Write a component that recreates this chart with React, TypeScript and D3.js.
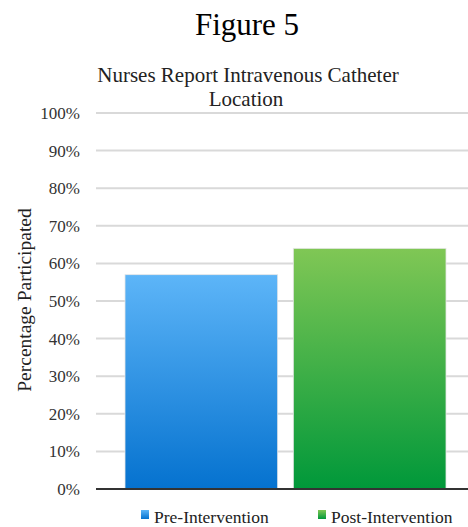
import React from "react";
import * as d3 from "d3";

const series = ["Pre-Intervention", "Post-Intervention"];
const values = [57, 64];
const yTicks = [0, 10, 20, 30, 40, 50, 60, 70, 80, 90, 100];
const topColors = ["#5db5f8", "#80c755"];
const bottomColors = ["#0572cf", "#00983a"];

export default function App() {
  const W = 468, H = 527;
  const y = d3.scaleLinear().domain([0, 100]).range([489, 113]);
  const x = d3.scaleBand<string>().domain(series).range([125, 446]).paddingInner(0.093).paddingOuter(0);
  const font = "'Liberation Serif', 'Times New Roman', serif";
  const legendX = [141, 318];
  return (
    <svg width={W} height={H} style={{ position: "absolute", left: 0, top: 0 }} fontFamily={font}>
      <defs>
        {series.map((s, i) => (
          <linearGradient key={s} id={`g${i}`} x1="0" y1="0" x2="0" y2="1">
            <stop offset="0%" stopColor={topColors[i]} />
            <stop offset="100%" stopColor={bottomColors[i]} />
          </linearGradient>
        ))}
      </defs>
      <rect width={W} height={H} fill="#fff" />
      <text x={247} y={35} textAnchor="middle" fontSize={31} fill="#000">Figure 5</text>
      <text x={248} y={82} textAnchor="middle" fontSize={21} fill="#222">Nurses Report Intravenous Catheter</text>
      <text x={246} y={106} textAnchor="middle" fontSize={21} fill="#222">Location</text>
      {yTicks.filter(t => t > 0).map(t => (
        <line key={t} x1={96} x2={468} y1={y(t)} y2={y(t)} stroke="#d9d9d9" strokeWidth={2} />
      ))}
      {yTicks.map(t => (
        <text key={t} x={80} y={y(t) + 6} textAnchor="end" fontSize={17} fill="#333">{t}%</text>
      ))}
      <text transform="translate(31,300) rotate(-90)" textAnchor="middle" fontSize={19.5} fill="#222">Percentage Participated</text>
      {series.map((s, i) => (
        <rect key={s} x={x(s)} y={y(values[i])} width={x.bandwidth()} height={y(0) - y(values[i])} fill={`url(#g${i})`} stroke="#e6e6e6" strokeWidth={0.8} />
      ))}
      <line x1={96} x2={468} y1={y(0)} y2={y(0)} stroke="#333" strokeWidth={2} />
      {series.map((s, i) => (
        <g key={s}>
          <rect x={legendX[i]} y={510} width={8} height={9} fill={`url(#g${i})`} />
          <text x={legendX[i] + 13} y={523} fontSize={17.5} fill="#222">{s}</text>
        </g>
      ))}
    </svg>
  );
}
